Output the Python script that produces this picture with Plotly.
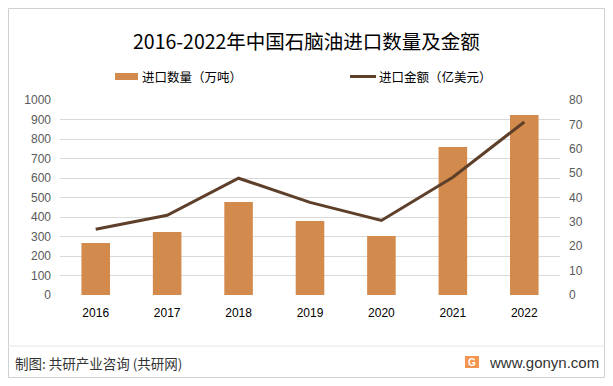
import plotly.graph_objects as go

years = ["2016", "2017", "2018", "2019", "2020", "2021", "2022"]
volume = [267, 323, 477, 379, 303, 759, 923]          # 进口数量（万吨）
amount = [27.0, 32.7, 47.9, 38.0, 30.6, 48.3, 71.0]   # 进口金额（亿美元）

left_ticks = [0, 100, 200, 300, 400, 500, 600, 700, 800, 900, 1000]
right_ticks = [0, 10, 20, 30, 40, 50, 60, 70, 80]

# page body has an 8px default margin; size the figure to fit the window
OFF = 8
W, H = 613 - 2 * OFF, 386 - 2 * OFF
font_cjk = "Noto Sans CJK SC, Microsoft YaHei, sans-serif"
font_num = "Liberation Sans, Arial, sans-serif"


def px(x):
    return (x - OFF) / W


def py(y):
    return 1 - (y - OFF) / H


fig = go.Figure()
fig.add_trace(go.Bar(x=years, y=volume, name="进口数量（万吨）",
                     marker=dict(color="#D38B4D", line=dict(width=0)),
                     yaxis="y"))
fig.add_trace(go.Scatter(x=years, y=amount, name="进口金额（亿美元）",
                         mode="lines", line=dict(color="#5E3F2A", width=3),
                         yaxis="y2"))

fig.update_layout(
    width=W, height=H,
    margin=dict(l=0, r=0, t=0, b=0),
    paper_bgcolor="white", plot_bgcolor="white",
    showlegend=False,
    bargap=0.6,
    xaxis=dict(domain=[px(60), px(560)], showgrid=False, showline=False,
               ticks="", ticklabelstandoff=9, automargin=False,
               tickfont=dict(family=font_num, size=12, color="#000000")),
    yaxis=dict(domain=[py(295), py(100)], range=[0, 1000], automargin=False,
               tickvals=left_ticks, showgrid=True, gridcolor="#D9D9D9", gridwidth=1,
               zeroline=False, showline=False, ticks="", ticklabelstandoff=8,
               tickfont=dict(family=font_num, size=12, color="#595959")),
    yaxis2=dict(overlaying="y", side="right", range=[0, 80], tickvals=right_ticks,
                showgrid=False, zeroline=False, showline=False, ticks="",
                ticklabelstandoff=8, automargin=False,
                tickfont=dict(family=font_num, size=12, color="#595959")),
)

# Title
fig.add_annotation(x=px(306), y=py(40), xref="paper", yref="paper",
                   text="2016-2022年中国石脑油进口数量及金额", showarrow=False,
                   font=dict(family=font_cjk, size=19.5, color="#000000"),
                   xanchor="center", yanchor="middle")

# Legend (manual)
fig.add_shape(type="rect", xref="paper", yref="paper",
              x0=px(115), x1=px(138), y0=py(80), y1=py(73),
              fillcolor="#D38B4D", line=dict(width=0))
fig.add_annotation(x=px(140), y=py(76.5), xref="paper", yref="paper",
                   text="进口数量（万吨）", showarrow=False, xanchor="left", yanchor="middle",
                   font=dict(family=font_cjk, size=12.5, color="#000000"))
fig.add_shape(type="line", xref="paper", yref="paper",
              x0=px(350), x1=px(376), y0=py(76.5), y1=py(76.5),
              line=dict(color="#5E3F2A", width=3))
fig.add_annotation(x=px(377), y=py(76.5), xref="paper", yref="paper",
                   text="进口金额（亿美元）", showarrow=False, xanchor="left", yanchor="middle",
                   font=dict(family=font_cjk, size=12.5, color="#000000"))

# Outer border and footer separator
fig.add_shape(type="rect", xref="paper", yref="paper",
              x0=0.5 / W, x1=1 - 0.5 / W, y0=0.5 / H, y1=1 - 0.5 / H,
              line=dict(color="#D0D0D0", width=1), fillcolor="rgba(0,0,0,0)")
fig.add_shape(type="line", xref="paper", yref="paper",
              x0=0, x1=1, y0=py(346), y1=py(346),
              line=dict(color="#E6E6E6", width=1))

# Footer
fig.add_annotation(x=px(13), y=py(363), xref="paper", yref="paper",
                   text="制图: 共研产业咨询 (共研网)", showarrow=False,
                   xanchor="left", yanchor="middle",
                   font=dict(family=font_cjk, size=13.5, color="#333333"))
fig.add_shape(type="rect", xref="paper", yref="paper",
              x0=px(465), x1=px(479), y0=py(368), y1=py(356),
              fillcolor="#F39450", line=dict(width=0))
fig.add_annotation(x=px(472), y=py(362), xref="paper", yref="paper",
                   text="<b>G</b>", showarrow=False, xanchor="center", yanchor="middle",
                   font=dict(family=font_num, size=10, color="white"))
fig.add_annotation(x=px(487), y=py(362), xref="paper", yref="paper",
                   text="www.gonyn.com", showarrow=False,
                   xanchor="left", yanchor="middle",
                   font=dict(family=font_num, size=15, color="#333333"))

fig.write_html("out.html")
